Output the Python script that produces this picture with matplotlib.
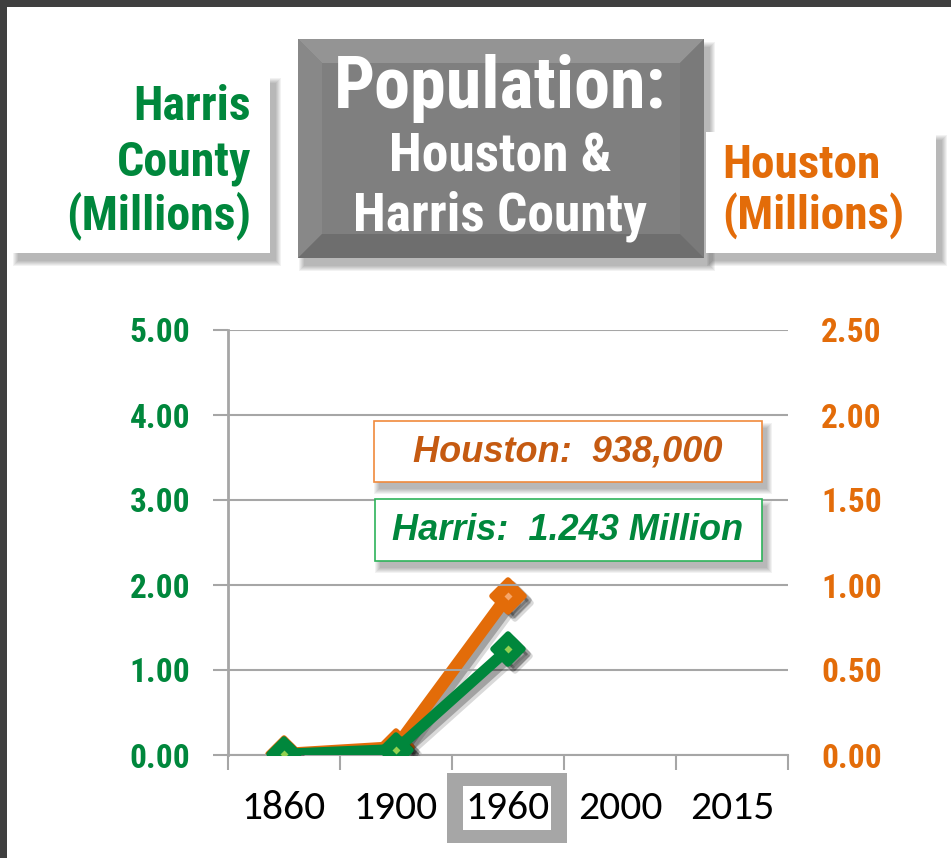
import numpy as np
import matplotlib
matplotlib.use('Agg')
import matplotlib.pyplot as plt
from matplotlib.patches import Rectangle, Polygon
from matplotlib.transforms import ScaledTranslation
from matplotlib.markers import MarkerStyle

# ---------------- data ----------------
years = ['1860', '1900', '1960', '2000', '2015']
harris_millions = [0.009, 0.064, 1.243, np.nan, np.nan]
houston_millions = [0.005, 0.045, 0.938, np.nan, np.nan]
left_ticks = [0, 1, 2, 3, 4, 5]
right_ticks = [0.0, 0.5, 1.0, 1.5, 2.0, 2.5]

title_lines = ['Population:', 'Houston &', 'Harris County']
left_label = ['Harris', 'County', '(Millions)']
right_label = ['Houston', '(Millions)']
houston_note = 'Houston:  938,000'
harris_note = 'Harris:  1.243 Million'
highlight_year = '1960'

# ---------------- style ----------------
GREEN = '#00873C'
ORANGE = '#E36C09'
ORANGE_TXT = '#C55A11'
GRID = '#A6A6A6'
NARROW = ['Arial Narrow', 'Liberation Sans Narrow', 'Roboto Condensed', 'DejaVu Sans']
ARIAL = ['Arial', 'Liberation Sans', 'DejaVu Sans']
CAL = ['Calibri', 'Carlito', 'Lato', 'DejaVu Sans']

W, H = 951, 858
fig = plt.figure(figsize=(W / 100, H / 100), dpi=100)
fig.patch.set_facecolor('white')


def rect_px(x0, y0, x1, y1, **kw):
    r = Rectangle((x0 / W, 1 - y1 / H), (x1 - x0) / W, (y1 - y0) / H,
                  transform=fig.transFigure, **kw)
    fig.add_artist(r)
    return r


def poly_px(pts, **kw):
    p = Polygon([(x / W, 1 - y / H) for x, y in pts], closed=True,
                transform=fig.transFigure, **kw)
    fig.add_artist(p)
    return p


def text_px(x, y, s, **kw):
    return fig.text(x / W, 1 - y / H, s, **kw)


def shadow_px(x0, y0, x1, y1, dx=6, dy=8, z=2):
    for k in range(6):
        rect_px(x0 + dx - k, y0 + dy - k, x1 + dx + k, y1 + dy + k,
                fc='black', ec='none', alpha=0.05, zorder=z)


# dark frame
rect_px(0, 0, W, 7, fc='#3F3F3F', ec='none', zorder=10)
rect_px(0, 0, 7, H, fc='#3F3F3F', ec='none', zorder=10)

# ---------------- header boxes ----------------
shadow_px(12, 75, 270, 253)
rect_px(12, 75, 270, 253, fc='white', ec='none', zorder=3)
for line, yb in zip(left_label, [120, 176, 229]):
    text_px(251, yb, line, ha='right', va='baseline', color=GREEN,
            fontsize=34.5, fontweight='bold', family=NARROW, zorder=4)

shadow_px(706, 132, 936, 253)
rect_px(706, 132, 936, 253, fc='white', ec='none', zorder=3)
for line, yb in zip(right_label, [178, 229]):
    text_px(722, yb, line, ha='left', va='baseline', color=ORANGE,
            fontsize=34, fontweight='bold', family=NARROW, zorder=4)

tx0, ty0, tx1, ty1, b = 298, 39, 704, 258, 24
shadow_px(tx0, ty0, tx1, ty1)
rect_px(tx0, ty0, tx1, ty1, fc='#7F7F7F', ec='none', zorder=3)
poly_px([(tx0, ty0), (tx1, ty0), (tx1 - b, ty0 + b), (tx0 + b, ty0 + b)],
        fc='#949494', ec='none', zorder=3)
poly_px([(tx0, ty0), (tx0 + b, ty0 + b), (tx0 + b, ty1 - b), (tx0, ty1)],
        fc='#888888', ec='none', zorder=3)
poly_px([(tx1, ty0), (tx1, ty1), (tx1 - b, ty1 - b), (tx1 - b, ty0 + b)],
        fc='#7A7A7A', ec='none', zorder=3)
poly_px([(tx0, ty1), (tx0 + b, ty1 - b), (tx1 - b, ty1 - b), (tx1, ty1)],
        fc='#6E6E6E', ec='none', zorder=3)
rect_px(tx0 + b, ty0 + b, tx1 - b, ty1 - b, fc='#7F7F7F', ec='none', zorder=3)
text_px(500, 108, title_lines[0], ha='center', va='baseline', color='white',
        fontsize=52, fontweight='bold', family=NARROW, zorder=4)
text_px(500, 172, title_lines[1], ha='center', va='baseline', color='white',
        fontsize=38.5, fontweight='bold', family=NARROW, zorder=4)
text_px(500, 230, title_lines[2], ha='center', va='baseline', color='white',
        fontsize=38.5, fontweight='bold', family=NARROW, zorder=4)

# ---------------- axes ----------------
ax = fig.add_axes([228 / W, 1 - 755 / H, 560 / W, 425 / H])
ax2 = ax.twinx()
ax.set_zorder(ax2.get_zorder() + 1)
ax.patch.set_visible(False)

x = np.arange(len(years))
ax.set_xlim(-0.5, len(years) - 0.5)
ax.set_ylim(0, 5)
ax2.set_ylim(0, 2.5)

ax.set_yticks(left_ticks)
ax.set_yticklabels([f'{v:.2f}' for v in left_ticks])
ax2.set_yticks(right_ticks)
ax2.set_yticklabels([f'{v:.2f}' for v in right_ticks])

ax.yaxis.grid(True, color=GRID, lw=1.5)
ax.set_axisbelow(True)
for s in ['top', 'right']:
    ax.spines[s].set_visible(False)
for s in ax2.spines.values():
    s.set_visible(False)
ax.spines['left'].set_color(GRID)
ax.spines['left'].set_linewidth(2)
ax.spines['bottom'].set_color(GRID)
ax.spines['bottom'].set_linewidth(1.5)

ax.set_xticks(x)
ax.set_xticklabels(years)
ax.set_xticks(np.arange(-0.5, len(years), 1), minor=True)
ax.tick_params(axis='x', which='major', length=0, pad=25)
ax.tick_params(axis='x', which='minor', length=11, width=1.5, color=GRID,
               direction='out')
ax.tick_params(axis='y', length=11, width=1.5, color=GRID, pad=16,
               labelcolor=GREEN)
ax2.tick_params(axis='y', length=0, pad=24, labelcolor=ORANGE)
for lab in ax.get_xticklabels():
    lab.set_family(CAL)
    lab.set_fontsize(30)
    lab.set_color('black')
for lab in list(ax.get_yticklabels()) + list(ax2.get_yticklabels()):
    lab.set_family(NARROW)
    lab.set_fontsize(24)
    lab.set_fontweight('bold')

diamond = MarkerStyle('D', joinstyle='round')


def draw_series(axis, vals, color, center, lw, ms, z):
    for off, a in [(7, 0.15), (4.5, 0.25)]:
        tr = axis.transData + ScaledTranslation(off / 100, -off / 100,
                                                fig.dpi_scale_trans)
        axis.plot(x, vals, color='black', alpha=a, lw=lw, marker=diamond,
                  ms=ms, mew=4, transform=tr, solid_joinstyle='round',
                  solid_capstyle='round', zorder=z)
    axis.plot(x, vals, color=color, lw=lw, marker=diamond, ms=ms, mew=4,
              mfc=color, mec=color, solid_joinstyle='round',
              solid_capstyle='round', zorder=z + 1)
    axis.plot(x, vals, ls='none', marker='D', ms=4, mfc=center, mec='none',
              zorder=z + 2)


draw_series(ax2, houston_millions, ORANGE, '#F6A66A', 9, 16, 3)
draw_series(ax, harris_millions, GREEN, '#92D050', 8, 15, 3)

# highlight box around 1960 label
rect_px(447, 773, 567, 843, fc=GRID, ec='none', zorder=-1)
rect_px(463, 786, 551, 830, fc='white', ec='none', zorder=-1)

# ---------------- callouts ----------------
shadow_px(374, 421, 762, 482, dx=5, dy=7, z=5)
rect_px(374, 421, 762, 482, fc='white', ec='#F08A3C', lw=1.2, zorder=6)
text_px(568, 452, houston_note, ha='center', va='center', color=ORANGE_TXT,
        fontsize=26, fontweight='bold', style='italic', family=ARIAL, zorder=7)

shadow_px(375, 499, 762, 561, dx=5, dy=7, z=5)
rect_px(375, 499, 762, 561, fc='white', ec='#2EB35A', lw=1.2, zorder=6)
text_px(568, 531, harris_note, ha='center', va='center', color=GREEN,
        fontsize=26, fontweight='bold', style='italic', family=ARIAL, zorder=7)

fig.savefig('out.png', dpi=100)
